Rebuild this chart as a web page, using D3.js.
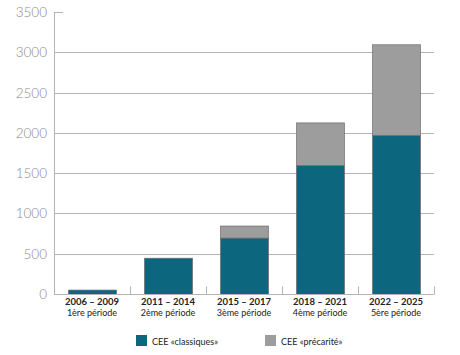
<!DOCTYPE html>
<html><head><meta charset="utf-8">
<script src="https://cdn.jsdelivr.net/npm/d3@7"></script>
<style>body{margin:0;background:#fff}</style>
</head><body>
<svg id="c" width="460" height="355"></svg>
<script>
const periods = ["2006 – 2009","2011 – 2014","2015 – 2017","2018 – 2021","2022 – 2025"];
const periodNames = ["1ère période","2ème période","3ème période","4ème période","5ère période"];
const classiques = [55, 450, 700, 1600, 1975];
const precarite = [0, 0, 150, 530, 1125];
const seriesNames = ["CEE «classiques»","CEE «précarité»"];
const yTicks = [0,500,1000,1500,2000,2500,3000,3500];

const colors = ["#0c667e","#9d9d9d"];
const svg = d3.select("#c");
const m = {l:54, r:26, t:12, b:61};
const W = 460, H = 355;
const x = d3.scaleBand().domain(periods).range([m.l, W-m.r]).paddingInner(0.37).paddingOuter(0.185);
const y = d3.scaleLinear().domain([0,3500]).range([H-m.b, m.t]);

// grid
svg.append("g").selectAll("line").data(yTicks.filter(d=>d>0 && d<3500)).join("line")
  .attr("x1", m.l).attr("x2", W-m.r).attr("y1", d=>Math.round(y(d))+0.5).attr("y2", d=>Math.round(y(d))+0.5)
  .attr("stroke","#b4b4b4").attr("stroke-width",1);
// top tick
svg.append("line").attr("x1",m.l).attr("x2",m.l+9).attr("y1",Math.round(y(3500))+0.5).attr("y2",Math.round(y(3500))+0.5).attr("stroke","#b4b4b4");
// y axis line
svg.append("line").attr("x1",m.l+0.5).attr("x2",m.l+0.5).attr("y1",y(3500)).attr("y2",y(0)).attr("stroke","#b4b4b4");

// y labels
svg.append("g").selectAll("text").data(yTicks).join("text")
  .attr("x", 47).attr("y", d=>y(d)+5).attr("text-anchor","end")
  .attr("font-family","Lato, 'Open Sans', sans-serif").attr("font-weight",300)
  .attr("font-size",13.5).attr("fill","#8a8a8a").text(d=>d);

// stacked data
const data = periods.map((p,i)=>({p, c: classiques[i], pr: precarite[i]}));
const stack = d3.stack().keys(["c","pr"])(data);
svg.append("g").selectAll("g").data(stack).join("g")
  .attr("fill",(d,i)=>colors[i])
  .selectAll("rect").data(d=>d.filter(s=>s[1]-s[0]>0)).join("rect")
  .attr("x", d=>Math.round(x(d.data.p))+0.5).attr("width", Math.round(x.bandwidth()))
  .attr("y", d=>y(d[1])+0.5).attr("height", d=>y(d[0])-y(d[1]))
  .attr("stroke", (d,i,n)=>"#666").attr("stroke-width",0.8).attr("stroke-opacity",0.8);

// bottom axis line
const by = Math.round(y(0))+0.5;
svg.append("line").attr("x1",m.l).attr("x2",W-m.r).attr("y1",by).attr("y2",by).attr("stroke","#b4b4b4");
// category boundary ticks
const step = x.step();
const bounds = periods.map((p,i)=> x(p) - x.paddingInner()*step/2 + step);
svg.append("g").selectAll("line").data(bounds).join("line")
  .attr("x1",d=>Math.round(d)+0.5).attr("x2",d=>Math.round(d)+0.5).attr("y1",by-8).attr("y2",by)
  .attr("stroke","#b4b4b4");

// x labels
const xl = svg.append("g").attr("font-family","Lato, 'Open Sans', sans-serif").attr("fill","#222").attr("text-anchor","middle");
xl.selectAll("text.a").data(periods).join("text").attr("class","a")
  .attr("x",d=>x(d)+x.bandwidth()/2).attr("y",305).attr("font-size",9.5).attr("font-weight",700).text(d=>d);
xl.selectAll("text.b").data(periods).join("text").attr("class","b")
  .attr("x",(d)=>x(d)+x.bandwidth()/2).attr("y",316).attr("font-size",9).attr("font-weight",400)
  .text((d,i)=>periodNames[i]);

// legend
const lx = [136, 265];
const lg = svg.append("g").selectAll("g").data(seriesNames).join("g")
  .attr("transform",(d,i)=>`translate(${lx[i]},335)`);
lg.append("rect").attr("width",11).attr("height",11).attr("fill",(d,i)=>colors[i]);
lg.append("text").attr("x",16).attr("y",9.5).attr("font-size",9).attr("fill","#222")
  .attr("font-family","Lato, 'Open Sans', sans-serif").text(d=>d);
</script>
</body></html>
